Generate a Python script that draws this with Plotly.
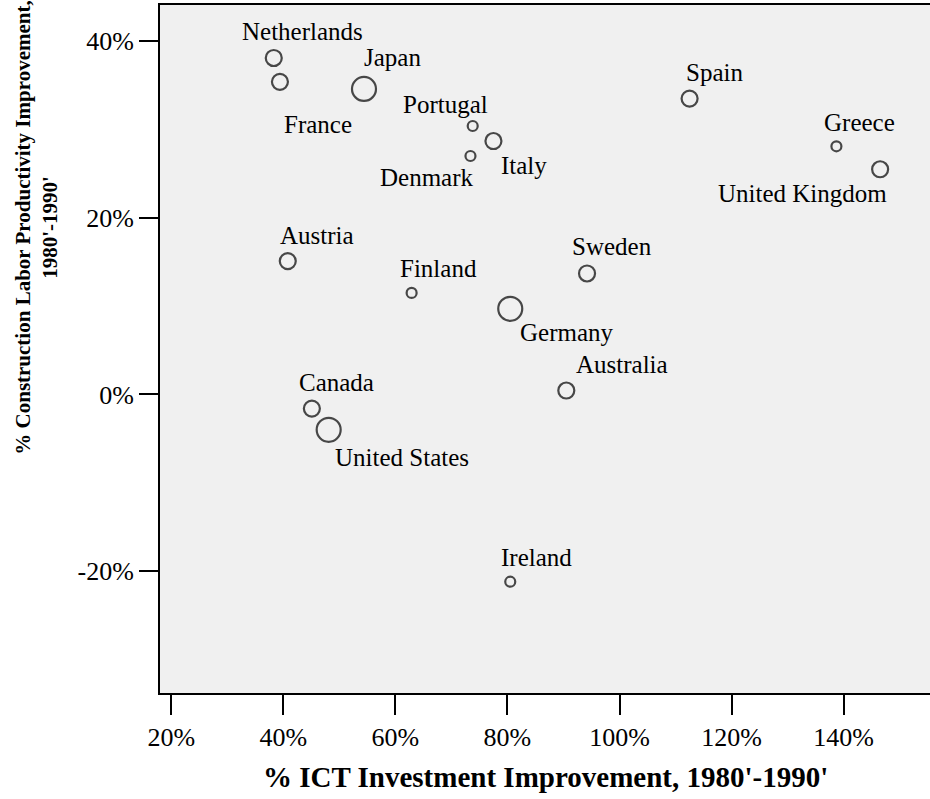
import plotly.graph_objects as go

countries = ["Netherlands", "France", "Japan", "Portugal", "Italy", "Denmark", "Spain",
             "Greece", "United Kingdom", "Austria", "Finland", "Germany", "Sweden",
             "Australia", "Canada", "United States", "Ireland"]
ict_improvement = [38.3, 39.4, 54.4, 73.8, 77.5, 73.4, 112.5,
                   138.7, 146.5, 40.8, 62.9, 80.5, 94.2,
                   90.5, 45.1, 48.1, 80.5]
labor_productivity = [38.1, 35.4, 34.6, 30.4, 28.7, 27.0, 33.5,
                      28.1, 25.5, 15.1, 11.5, 9.7, 13.7,
                      0.45, -1.6, -4.0, -21.2]
size_class = [2, 2, 3, 1, 2, 1, 2,
              1, 2, 2, 1, 3, 2,
              2, 2, 3, 1]

x_ticks = [20, 40, 60, 80, 100, 120, 140]
y_ticks = [-20, 0, 20, 40]

# style: marker diameter per size class, label offsets (pixels) per country
diam = {1: 10, 2: 16, 3: 24}
label_offsets = {
    "Netherlands": (29, 26), "France": (38, -43), "Japan": (29, 31),
    "Portugal": (-27, 22), "Italy": (31, -24), "Denmark": (-43, -21),
    "Spain": (25, 26), "Greece": (23, 24), "United Kingdom": (-78, -24),
    "Austria": (29, 26), "Finland": (27, 24), "Germany": (57, -24),
    "Sweden": (25, 27), "Australia": (56, 26), "Canada": (25, 26),
    "United States": (73, -28), "Ireland": (26, 24),
}

FONT = "Liberation Serif, Times New Roman, serif"

fig = go.Figure()
fig.add_trace(go.Scatter(
    x=ict_improvement, y=labor_productivity, mode="markers",
    marker=dict(size=[diam[s] for s in size_class], color="rgba(0,0,0,0)",
                line=dict(color="black", width=2.2)),
    text=countries, hoverinfo="text", showlegend=False,
))

for c, xv, yv in zip(countries, ict_improvement, labor_productivity):
    dx, dy = label_offsets[c]
    fig.add_annotation(x=xv, y=yv, text=c, showarrow=False, xshift=dx, yshift=dy,
                       font=dict(family=FONT, size=25, color="black"))

fig.add_annotation(xref="paper", yref="paper", x=0.501, y=-0.122, yanchor="middle",
                   xanchor="center",
                   text="<b>% ICT Investment Improvement, 1980'-1990'</b>",
                   showarrow=False, font=dict(family=FONT, size=29, color="black"))
fig.add_annotation(xref="paper", yref="paper", x=-0.16, y=0.676, xanchor="center",
                   yanchor="middle", textangle=-90,
                   text="<b>% Construction Labor Productivity Improvement,<br>1980'-1990'</b>",
                   showarrow=False, font=dict(family=FONT, size=21, color="black"))

fig.update_layout(
    width=930, height=799,
    margin=dict(l=160, r=0, t=5, b=106),
    paper_bgcolor="white", plot_bgcolor="#F0F0F0",
    font=dict(family=FONT, size=26, color="black"),
)
fig.update_xaxes(range=[18.0, 155.4], tickvals=x_ticks, ticktext=[f"{v}%" for v in x_ticks],
                 showgrid=False, zeroline=False, showline=True, linecolor="black",
                 linewidth=2, mirror=True, ticks="outside", ticklen=20, tickwidth=2,
                 tickcolor="black", tickfont=dict(size=26))
fig.update_yaxes(range=[-33.8, 44.1], tickvals=y_ticks, ticktext=[f"{v}%" for v in y_ticks],
                 showgrid=False, zeroline=False, showline=True, linecolor="black",
                 linewidth=2, ticks="outside", ticklen=19, tickwidth=2, tickcolor="black",
                 tickfont=dict(size=26))

fig.write_html("out.html", config={"displayModeBar": False},
               post_script="document.body.style.margin='0';")
